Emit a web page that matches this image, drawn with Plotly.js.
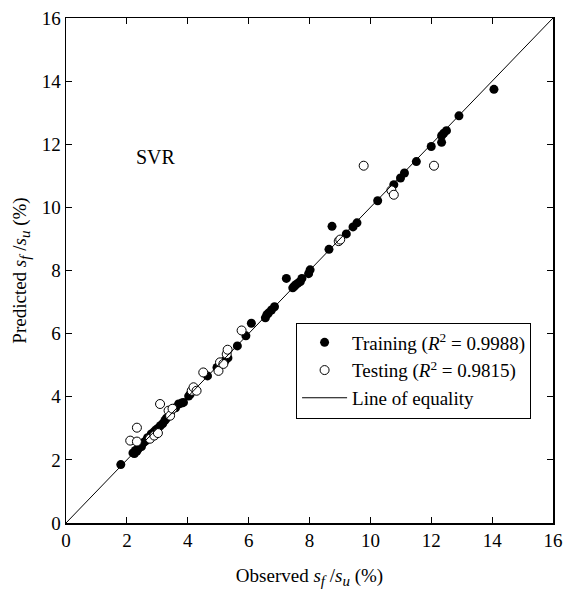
<!DOCTYPE html>
<html>
<head>
<meta charset="utf-8">
<script src="https://cdn.plot.ly/plotly-3.0.1.min.js"></script>
<style>html,body{margin:0;padding:0;background:#fff;}#chart{width:563px;height:596px;}</style>
</head>
<body>
<div id="chart"></div>
<script>
// Training data (observed, predicted)
const trainObserved = [1.80,2.20,2.25,2.28,2.33,2.38,2.42,2.48,2.55,2.62,2.68,2.75,2.80,2.88,2.95,3.02,3.10,3.18,3.25,3.30,3.40,3.45,3.60,3.70,3.80,3.86,4.03,4.08,4.65,4.96,5.05,5.23,5.32,5.63,5.91,6.09,6.55,6.60,6.65,6.75,6.85,7.24,7.45,7.50,7.55,7.62,7.70,7.75,7.97,8.02,8.64,8.74,9.21,9.43,9.56,10.24,10.77,10.99,11.12,11.51,12.00,12.34,12.41,12.50,12.34,12.91,14.06];
const trainPredicted = [1.85,2.22,2.20,2.30,2.28,2.36,2.45,2.42,2.55,2.60,2.70,2.72,2.82,2.88,2.95,3.00,3.08,3.15,3.25,3.32,3.45,3.55,3.65,3.77,3.80,3.82,4.02,4.08,4.66,4.93,5.00,5.15,5.23,5.61,5.93,6.33,6.50,6.60,6.65,6.75,6.85,7.75,7.45,7.50,7.55,7.60,7.65,7.75,7.90,8.02,8.67,9.40,9.16,9.38,9.51,10.21,10.72,10.93,11.09,11.45,11.93,12.27,12.35,12.43,12.06,12.90,13.74];
// Testing data (observed, predicted)
const testObserved = [2.11,2.33,2.33,2.76,2.90,3.02,3.09,3.37,3.42,3.50,4.13,4.19,4.29,4.51,5.01,5.06,5.17,5.28,5.31,5.77,8.96,9.01,9.78,10.69,10.77,12.09];
const testPredicted = [2.61,3.02,2.58,2.67,2.77,2.85,3.77,3.56,3.40,3.62,4.19,4.30,4.19,4.77,4.82,5.09,5.04,5.35,5.49,6.10,8.93,8.98,11.32,10.54,10.40,11.32];
// Line of equality
const eqLine = [0, 16];
const tickVals = [0,2,4,6,8,10,12,14,16];
const names = ["Training (<i>R</i><sup>2</sup> = 0.9988)", "Testing (<i>R</i><sup>2</sup> = 0.9815)", "Line of equality"];
const modelLabel = "SVR";
const xTitle = 'Observed <i>s<sub><span style="font-size:15px">f</span></sub></i> /<i>s<sub><span style="font-size:15px">u</span></sub></i> (%)';
const yTitle = 'Predicted <i>s<sub><span style="font-size:15px">f</span></sub></i> /<i>s<sub><span style="font-size:15px">u</span></sub></i> (%)';

const fontFam = "Liberation Serif, Times New Roman, serif";

const traces = [
  {x: trainObserved, y: trainPredicted, mode: 'markers', type: 'scatter', name: names[0],
   marker: {color: '#000', size: 9, line: {color: '#000', width: 0}}},
  {x: testObserved, y: testPredicted, mode: 'markers', type: 'scatter', name: names[1],
   marker: {color: '#fff', size: 9, line: {color: '#000', width: 1}}},
  {x: eqLine, y: eqLine, mode: 'lines', type: 'scatter', name: names[2],
   line: {color: '#000', width: 1}}
];

const axisCommon = {
  range: [0, 16], tickvals: tickVals, ticktext: tickVals.map(String),
  ticks: 'inside', ticklen: 6, tickwidth: 1.2, tickcolor: '#000',
  showline: true, linecolor: '#000', linewidth: 1.5, mirror: 'ticks',
  showgrid: false, zeroline: false,
  tickfont: {family: fontFam, size: 19, color: '#000'}
};

const layout = {
  width: 563, height: 596,
  margin: {l: 66, r: 10, t: 18, b: 73},
  paper_bgcolor: '#fff', plot_bgcolor: '#fff',
  font: {family: fontFam, color: '#000'},
  showlegend: true,
  legend: {x: 0.955, xanchor: 'right', y: 0.397, yanchor: 'top',
    bordercolor: '#000', borderwidth: 1, bgcolor: '#fff', itemwidth: 45,
    font: {family: fontFam, size: 19, color: '#000'}, tracegroupgap: 0},
  xaxis: Object.assign({}, axisCommon, {
    title: {text: xTitle, font: {family: fontFam, size: 19, color: '#000'}, standoff: 18}
  }),
  yaxis: Object.assign({}, axisCommon, {
    title: {text: yTitle, font: {family: fontFam, size: 19, color: '#000'}, standoff: 10}
  }),
  annotations: [{x: 2.96, y: 11.61, xref: 'x', yref: 'y', text: modelLabel, showarrow: false,
    font: {family: fontFam, size: 20, color: '#000'}}]
};

Plotly.newPlot('chart', traces, layout, {displayModeBar: false, staticPlot: true});
</script>
</body>
</html>
